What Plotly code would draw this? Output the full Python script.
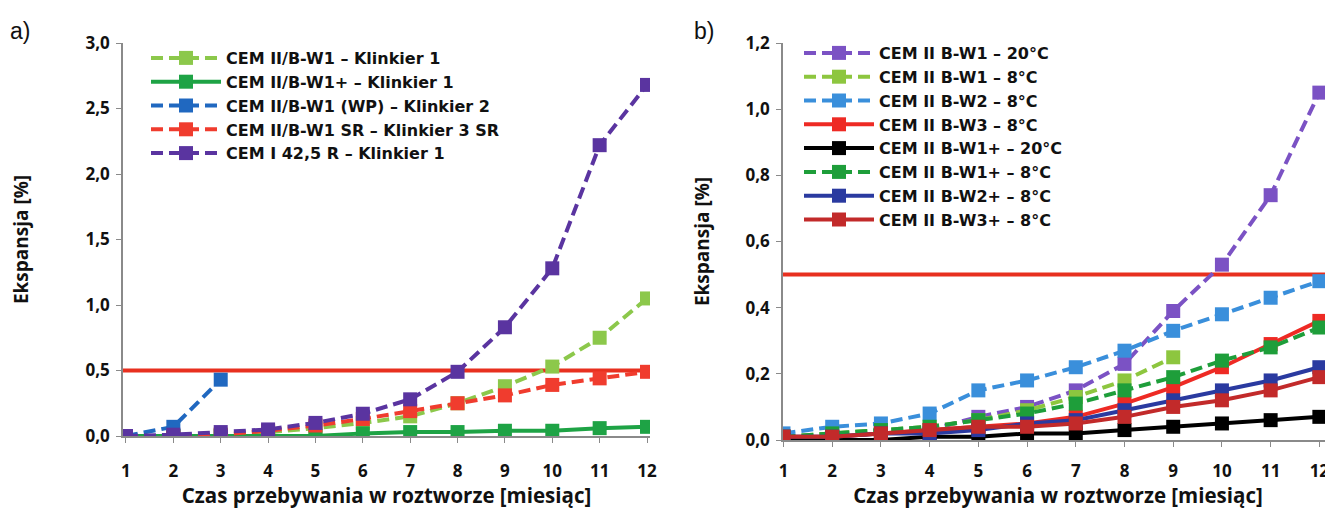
import plotly.graph_objects as go

months = list(range(1, 13))
LIMIT = 0.5

# Panel a)
a_names = ["CEM II/B-W1 – Klinkier 1", "CEM II/B-W1+ – Klinkier 1", "CEM II/B-W1 (WP) – Klinkier 2",
           "CEM II/B-W1 SR – Klinkier 3 SR", "CEM I 42,5 R – Klinkier 1"]
a_w1 = [0.0, 0.0, 0.01, 0.03, 0.06, 0.10, 0.15, 0.25, 0.38, 0.53, 0.75, 1.05]
a_w1plus = [0.0, 0.0, 0.0, 0.0, 0.0, 0.02, 0.03, 0.03, 0.04, 0.04, 0.06, 0.07]
a_wp = [0.0, 0.07, 0.43]
a_sr = [0.0, -0.01, 0.01, 0.04, 0.08, 0.13, 0.19, 0.25, 0.31, 0.39, 0.44, 0.49]
a_cem1 = [0.0, 0.01, 0.03, 0.05, 0.10, 0.17, 0.28, 0.49, 0.83, 1.28, 2.22, 2.68]
a_series = [a_w1, a_w1plus, a_wp, a_sr, a_cem1]
a_colors = ["#8CC84B", "#1EA345", "#2068C0", "#F03C2E", "#5A34A0"]
a_dash = ["dash", "solid", "dash", "dash", "dash"]

# Panel b)
b_names = ["CEM II B-W1 – 20°C", "CEM II B-W1 – 8°C", "CEM II B-W2 – 8°C", "CEM II B-W3 – 8°C",
           "CEM II B-W1+ – 20°C", "CEM II B-W1+ – 8°C", "CEM II B-W2+ – 8°C", "CEM II B-W3+ – 8°C"]
b_w1_20 = [0.01, 0.01, 0.02, 0.03, 0.07, 0.10, 0.15, 0.23, 0.39, 0.53, 0.74, 1.05]
b_w1_8 = [0.01, 0.02, 0.03, 0.04, 0.06, 0.09, 0.13, 0.18, 0.25]
b_w2_8 = [0.02, 0.04, 0.05, 0.08, 0.15, 0.18, 0.22, 0.27, 0.33, 0.38, 0.43, 0.48]
b_w3_8 = [0.01, 0.01, 0.02, 0.03, 0.04, 0.05, 0.07, 0.11, 0.16, 0.22, 0.29, 0.36]
b_w1p_20 = [0.0, 0.0, 0.0, 0.01, 0.01, 0.02, 0.02, 0.03, 0.04, 0.05, 0.06, 0.07]
b_w1p_8 = [0.01, 0.02, 0.03, 0.04, 0.06, 0.08, 0.11, 0.15, 0.19, 0.24, 0.28, 0.34]
b_w2p_8 = [0.01, 0.01, 0.02, 0.02, 0.03, 0.05, 0.06, 0.09, 0.12, 0.15, 0.18, 0.22]
b_w3p_8 = [0.01, 0.01, 0.02, 0.03, 0.04, 0.04, 0.05, 0.07, 0.10, 0.12, 0.15, 0.19]
b_series = [b_w1_20, b_w1_8, b_w2_8, b_w3_8, b_w1p_20, b_w1p_8, b_w2p_8, b_w3p_8]
b_colors = ["#7B52C4", "#8DC63F", "#3A8FDB", "#EE2A24", "#000000", "#1E9E3A", "#2A3AA0", "#C22A2A"]
b_dash = ["dash", "dash", "dash", "solid", "solid", "dash", "solid", "solid"]

a_yticks = [0, 0.5, 1.0, 1.5, 2.0, 2.5, 3.0]
b_yticks = [0, 0.2, 0.4, 0.6, 0.8, 1.0, 1.2]

FONT = "Open Sans"
LFONT = "DejaVu Sans"
TXT = "#111111"
AX = "#8a8a8a"
DASH = "12px,6px"

fig = go.Figure()

for name, ys, col, d in zip(a_names, a_series, a_colors, a_dash):
    fig.add_trace(go.Scatter(
        x=months[:len(ys)], y=ys, name=name, mode="lines+markers",
        line=dict(color=col, width=4, dash=DASH if d == "dash" else "solid"),
        marker=dict(symbol="square", size=14, color=col),
        xaxis="x", yaxis="y", legend="legend"))

for name, ys, col, d in zip(b_names, b_series, b_colors, b_dash):
    fig.add_trace(go.Scatter(
        x=months[:len(ys)], y=ys, name=name, mode="lines+markers",
        line=dict(color=col, width=4, dash=DASH if d == "dash" else "solid"),
        marker=dict(symbol="square", size=14, color=col),
        xaxis="x2", yaxis="y2", legend="legend2"))

# page has an 8px body margin; figure coordinates = page coordinates - 8
W, H = 1325, 501
def px(xp):
    return xp / W
def py(yp):
    return 1 - yp / H

axis_common = dict(showline=True, linecolor=AX, linewidth=1.5, ticks="outside", tickcolor=AX,
                   ticklen=5, showgrid=False, zeroline=False, automargin=False,
                   tickfont=dict(family=FONT, size=17, color=TXT, weight="bold"))

xtitle_font = dict(family=FONT, size=20.5, color=TXT, weight="bold")
ytitle_font = dict(family=FONT, size=19, color=TXT, weight="bold")
legend_font = dict(family=LFONT, size=16, color=TXT, weight="bold")

fig.update_layout(
    width=W, height=H,
    margin=dict(l=0, r=0, t=0, b=0),
    paper_bgcolor="white", plot_bgcolor="white",
    separators=", ",
    font=dict(family=FONT, color=TXT),
    xaxis=dict(domain=[px(115), px(642)], range=[0.937, 12.063], tickvals=months, anchor="y",
               ticklabelstandoff=14,
               title=dict(text="Czas przebywania w roztworze [miesiąc]", standoff=1, font=xtitle_font),
               **axis_common),
    yaxis=dict(domain=[py(428), py(35)], range=[0, 3.0], tickvals=a_yticks, tickformat=".1f",
               anchor="x", ticklabelstandoff=3,
               title=dict(text="Ekspansja [%]", standoff=55, font=ytitle_font),
               **axis_common),
    xaxis2=dict(domain=[px(775), px(1325)], range=[0.99, 12.28], tickvals=months, anchor="y2",
                ticklabelstandoff=10,
                title=dict(text="Czas przebywania w roztworze [miesiąc]", standoff=1, font=xtitle_font),
                **axis_common),
    yaxis2=dict(domain=[py(432), py(35)], range=[0, 1.2], tickvals=b_yticks, tickformat=".1f",
                anchor="x2", ticklabelstandoff=3,
                title=dict(text="Ekspansja [%]", standoff=31, font=ytitle_font),
                **axis_common),
    legend=dict(x=px(138), y=py(33), xanchor="left", yanchor="top", bgcolor="white",
                font=legend_font, itemwidth=70, tracegroupgap=0, traceorder="normal"),
    legend2=dict(x=px(791), y=py(28), xanchor="left", yanchor="top", bgcolor="white",
                 font=legend_font, itemwidth=70, tracegroupgap=0, traceorder="normal"),
    showlegend=True,
)

# limit line at LIMIT in both panels
for xr, yr in [("x", "y"), ("x2", "y2")]:
    fig.add_shape(type="line", xref=f"{xr} domain", yref=yr, x0=0, x1=1, y0=LIMIT, y1=LIMIT,
                  line=dict(color="#E8301F", width=4), layer="below")

fig.add_annotation(text="a)", x=px(0), y=py(23), xref="paper", yref="paper", showarrow=False,
                   xanchor="left", yanchor="middle", font=dict(family="Liberation Sans", size=23, color=TXT))
fig.add_annotation(text="b)", x=px(684), y=py(23), xref="paper", yref="paper", showarrow=False,
                   xanchor="left", yanchor="middle", font=dict(family="Liberation Sans", size=23, color=TXT))

fig.write_html("out.html")
